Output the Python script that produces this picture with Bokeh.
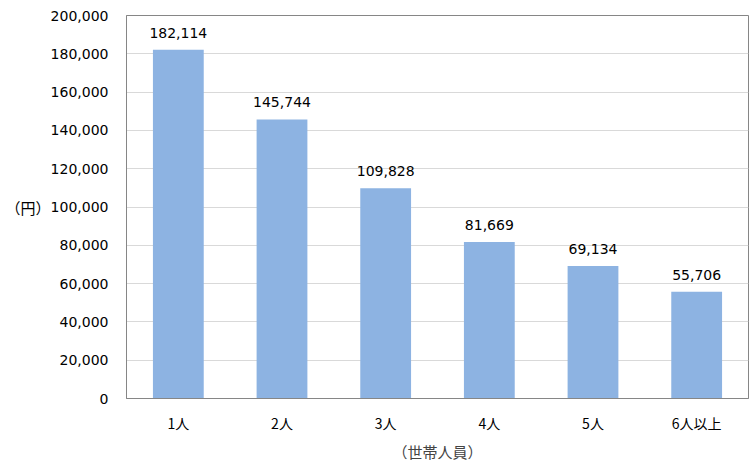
from bokeh.plotting import figure
from bokeh.models import (ColumnDataSource, NumeralTickFormatter, FixedTicker, LabelSet,
                          LinearAxis)
from bokeh.core.properties import value
from bokeh.embed import file_html
from bokeh.resources import INLINE

categories = ["1人", "2人", "3人", "4人", "5人", "6人以上"]
values = [182114, 145744, 109828, 81669, 69134, 55706]
labels = ["182,114", "145,744", "109,828", "81,669", "69,134", "55,706"]
y_ticks = list(range(0, 200001, 20000))
y_unit = "（円）"

src = ColumnDataSource(data=dict(cat=categories, val=values, lab=labels))

p = figure(x_range=categories, y_range=(0, 200000), width=750, height=466,
           output_backend="svg", toolbar_location=None,
           min_border_left=126, min_border_right=2, min_border_top=15, min_border_bottom=68)

p.vbar(x="cat", top="val", width=0.49, source=src, fill_color="#8DB3E2", line_color=None)

p.add_layout(LabelSet(x="cat", y="val", text="lab", source=src, text_align="center",
                      text_baseline="bottom", y_offset=12, text_font_size="14px",
                      text_font=value("DejaVu Sans"), text_color="#000000"))

p.yaxis.ticker = FixedTicker(ticks=y_ticks)
p.yaxis.formatter = NumeralTickFormatter(format="0,0")
p.yaxis.major_label_text_font = "DejaVu Sans"
p.yaxis.major_label_text_font_size = "14px"
p.yaxis.major_label_text_color = "#000000"
p.yaxis.major_label_standoff = 12
p.yaxis.major_tick_line_color = None
p.yaxis.minor_tick_line_color = None
p.yaxis.axis_line_color = "#868686"

# unit label drawn as a horizontal label of an outer axis
unit_axis = LinearAxis(ticker=FixedTicker(ticks=[100000]),
                       major_label_overrides={100000: y_unit},
                       major_label_text_font="Noto Sans CJK JP",
                       major_label_text_font_size="15px",
                       major_label_text_color="#000000",
                       major_label_standoff=-9,
                       axis_line_color=None, major_tick_line_color=None,
                       minor_tick_line_color=None)
p.add_layout(unit_axis, "left")

p.xaxis.major_label_text_font = "Noto Sans CJK JP"
p.xaxis.major_label_text_font_size = "14px"
p.xaxis.major_label_text_color = "#000000"
p.xaxis.major_label_standoff = 8
p.xaxis.major_tick_line_color = None
p.xaxis.axis_line_color = "#868686"
p.xaxis.axis_label = "（世帯人員）"
p.xaxis.axis_label_text_font = "Noto Sans CJK JP"
p.xaxis.axis_label_text_font_size = "15px"
p.xaxis.axis_label_text_font_style = "normal"
p.xaxis.axis_label_standoff = 5

p.xgrid.grid_line_color = None
p.ygrid.grid_line_color = "#D9D9D9"
p.ygrid.ticker = FixedTicker(ticks=y_ticks)

p.outline_line_color = "#868686"
p.outline_line_width = 1

open("out.html", "w").write(file_html(p, INLINE))
